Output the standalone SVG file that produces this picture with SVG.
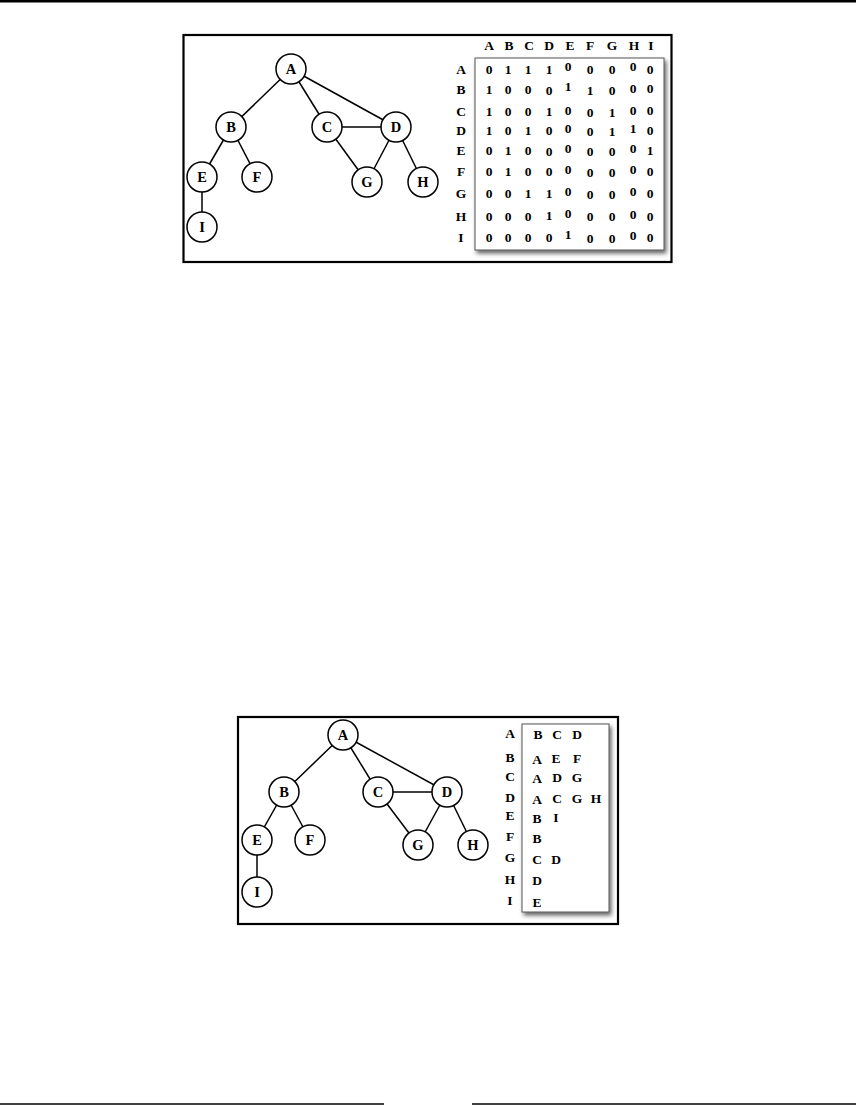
<svg xmlns="http://www.w3.org/2000/svg" width="856" height="1105" viewBox="0 0 856 1105">
<style>
.frame{fill:#fff;stroke:#000;stroke-width:2.2}
.node circle{fill:#fff;stroke:#000;stroke-width:1.5}
.edge{stroke:#000;stroke-width:1.5;fill:none}
text{font-family:"Liberation Serif","Times New Roman",serif;font-weight:bold;font-size:13.5px;fill:#000}
.node text{font-size:14.5px}
.nl{text-anchor:middle}
.m{text-anchor:middle}
.panel{fill:#fff;stroke:#555;stroke-width:1;filter:url(#sh)}
.rule{stroke:#000}
</style>
<defs>
<filter id="sh" x="-10%" y="-10%" width="125%" height="125%">
<feDropShadow dx="2" dy="3" stdDeviation="2.2" flood-color="#000" flood-opacity="0.6"/>
</filter>
</defs>
<rect width="856" height="1105" fill="#fff"/>
<line class="rule" x1="0" y1="1.2" x2="856" y2="1.2" stroke-width="2.4"/>
<line class="rule" x1="0" y1="1104" x2="384" y2="1104" stroke-width="1.5"/>
<line class="rule" x1="472" y1="1104" x2="856" y2="1104" stroke-width="1.5"/>

<!-- TOP FIGURE -->
<rect class="frame" x="183.5" y="35" width="488" height="227"/>
<g id="top-edges">
<line class="edge" x1="291" y1="69" x2="231" y2="127"/>
<line class="edge" x1="291" y1="69" x2="327" y2="127"/>
<line class="edge" x1="291" y1="69" x2="396" y2="127"/>
<line class="edge" x1="231" y1="127" x2="202" y2="177"/>
<line class="edge" x1="231" y1="127" x2="257" y2="177"/>
<line class="edge" x1="327" y1="127" x2="396" y2="127"/>
<line class="edge" x1="327" y1="127" x2="367" y2="182"/>
<line class="edge" x1="396" y1="127" x2="367" y2="182"/>
<line class="edge" x1="396" y1="127" x2="423" y2="182"/>
<line class="edge" x1="202" y1="177" x2="202" y2="227"/>
</g>
<g id="top-A" class="node"><circle cx="291" cy="69" r="15"/><text class="nl" x="291" y="74">A</text></g>
<g id="top-B" class="node"><circle cx="231" cy="127" r="15"/><text class="nl" x="231" y="132">B</text></g>
<g id="top-C" class="node"><circle cx="327" cy="127" r="15"/><text class="nl" x="327" y="132">C</text></g>
<g id="top-D" class="node"><circle cx="396" cy="127" r="15"/><text class="nl" x="396" y="132">D</text></g>
<g id="top-E" class="node"><circle cx="202" cy="177" r="15"/><text class="nl" x="202" y="182">E</text></g>
<g id="top-F" class="node"><circle cx="257" cy="177" r="15"/><text class="nl" x="257" y="182">F</text></g>
<g id="top-G" class="node"><circle cx="367" cy="182" r="15"/><text class="nl" x="367" y="187">G</text></g>
<g id="top-H" class="node"><circle cx="423" cy="182" r="15"/><text class="nl" x="423" y="187">H</text></g>
<g id="top-I" class="node"><circle cx="202" cy="227" r="15"/><text class="nl" x="202" y="232">I</text></g>

<g id="matrix">
<rect class="panel" x="475" y="58" width="189" height="192"/>
<g class="m">
<text x="489" y="50">A</text><text x="509" y="50">B</text><text x="529" y="50">C</text><text x="549" y="50">D</text><text x="570" y="50">E</text><text x="590" y="50">F</text><text x="612" y="50">G</text><text x="634" y="50">H</text><text x="651" y="50">I</text>
</g>
<g class="m">
<text x="461" y="74">A</text><text x="461" y="94">B</text><text x="461" y="116">C</text><text x="461" y="135">D</text><text x="461" y="155">E</text><text x="461" y="176">F</text><text x="461" y="198">G</text><text x="461" y="221">H</text><text x="461" y="242">I</text>
</g>
<g class="m">
<text x="489" y="74">0</text><text x="508" y="74">1</text><text x="528" y="74">1</text><text x="549" y="74">1</text><text x="568" y="71">0</text><text x="590" y="74">0</text><text x="612" y="74">0</text><text x="633" y="71">0</text><text x="650" y="74">0</text>
<text x="489" y="94">1</text><text x="508" y="94">0</text><text x="528" y="94">0</text><text x="549" y="95">0</text><text x="568" y="91">1</text><text x="590" y="95">1</text><text x="612" y="95">0</text><text x="633" y="93">0</text><text x="650" y="93">0</text>
<text x="489" y="116">1</text><text x="508" y="116">0</text><text x="528" y="116">0</text><text x="549" y="116">1</text><text x="568" y="115">0</text><text x="590" y="117">0</text><text x="612" y="117">1</text><text x="633" y="115">0</text><text x="650" y="115">0</text>
<text x="489" y="135">1</text><text x="508" y="135">0</text><text x="528" y="135">1</text><text x="549" y="135">0</text><text x="568" y="133">0</text><text x="590" y="136">0</text><text x="612" y="136">1</text><text x="633" y="133">1</text><text x="650" y="135">0</text>
<text x="489" y="155">0</text><text x="508" y="155">1</text><text x="528" y="155">0</text><text x="549" y="156">0</text><text x="568" y="153">0</text><text x="590" y="156">0</text><text x="612" y="156">0</text><text x="633" y="153">0</text><text x="650" y="155">1</text>
<text x="489" y="176">0</text><text x="508" y="176">1</text><text x="528" y="176">0</text><text x="549" y="176">0</text><text x="568" y="174">0</text><text x="590" y="177">0</text><text x="612" y="177">0</text><text x="633" y="174">0</text><text x="650" y="176">0</text>
<text x="489" y="198">0</text><text x="508" y="198">0</text><text x="528" y="198">1</text><text x="549" y="198">1</text><text x="568" y="196">0</text><text x="590" y="199">0</text><text x="612" y="199">0</text><text x="633" y="196">0</text><text x="650" y="198">0</text>
<text x="489" y="221">0</text><text x="508" y="221">0</text><text x="528" y="221">0</text><text x="549" y="220">1</text><text x="568" y="218">0</text><text x="590" y="221">0</text><text x="612" y="221">0</text><text x="633" y="219">0</text><text x="650" y="221">0</text>
<text x="489" y="242">0</text><text x="508" y="242">0</text><text x="528" y="242">0</text><text x="549" y="242">0</text><text x="568" y="239">1</text><text x="590" y="243">0</text><text x="612" y="243">0</text><text x="633" y="240">0</text><text x="650" y="242">0</text>
</g>
</g>

<!-- BOTTOM FIGURE -->
<rect class="frame" x="238" y="717" width="380" height="207"/>
<g id="bottom-edges">
<line class="edge" x1="343" y1="735" x2="284" y2="792"/>
<line class="edge" x1="343" y1="735" x2="378" y2="792"/>
<line class="edge" x1="343" y1="735" x2="447" y2="792"/>
<line class="edge" x1="284" y1="792" x2="257" y2="840"/>
<line class="edge" x1="284" y1="792" x2="310" y2="840"/>
<line class="edge" x1="378" y1="792" x2="447" y2="792"/>
<line class="edge" x1="378" y1="792" x2="418" y2="845"/>
<line class="edge" x1="447" y1="792" x2="418" y2="845"/>
<line class="edge" x1="447" y1="792" x2="473" y2="845"/>
<line class="edge" x1="257" y1="840" x2="257" y2="892"/>
</g>
<g id="bottom-A" class="node"><circle cx="343" cy="735" r="15"/><text class="nl" x="343" y="740">A</text></g>
<g id="bottom-B" class="node"><circle cx="284" cy="792" r="15"/><text class="nl" x="284" y="797">B</text></g>
<g id="bottom-C" class="node"><circle cx="378" cy="792" r="15"/><text class="nl" x="378" y="797">C</text></g>
<g id="bottom-D" class="node"><circle cx="447" cy="792" r="15"/><text class="nl" x="447" y="797">D</text></g>
<g id="bottom-E" class="node"><circle cx="257" cy="840" r="15"/><text class="nl" x="257" y="845">E</text></g>
<g id="bottom-F" class="node"><circle cx="310" cy="840" r="15"/><text class="nl" x="310" y="845">F</text></g>
<g id="bottom-G" class="node"><circle cx="418" cy="845" r="15"/><text class="nl" x="418" y="850">G</text></g>
<g id="bottom-H" class="node"><circle cx="473" cy="845" r="15"/><text class="nl" x="473" y="850">H</text></g>
<g id="bottom-I" class="node"><circle cx="257" cy="892" r="15"/><text class="nl" x="257" y="897">I</text></g>

<g id="adjacency-list">
<rect class="panel" x="522" y="724" width="87" height="188"/>
<g class="m">
<text x="510" y="738">A</text><text x="510" y="762">B</text><text x="510" y="781">C</text><text x="510" y="802">D</text><text x="510" y="820">E</text><text x="510" y="841">F</text><text x="510" y="862">G</text><text x="510" y="884">H</text><text x="510" y="905">I</text>
</g>
<g class="m">
<text x="538" y="739">B</text><text x="557" y="739">C</text><text x="577" y="739">D</text>
<text x="537" y="764">A</text><text x="556" y="763">E</text><text x="577" y="763">F</text>
<text x="537" y="783">A</text><text x="557" y="782">D</text><text x="577" y="782">G</text>
<text x="537" y="804">A</text><text x="557" y="803">C</text><text x="577" y="803">G</text><text x="596" y="803">H</text>
<text x="537" y="823">B</text><text x="556" y="822">I</text>
<text x="537" y="843">B</text>
<text x="537" y="864">C</text><text x="556" y="864">D</text>
<text x="537" y="885">D</text>
<text x="537" y="907">E</text>
</g>
</g>
</svg>
